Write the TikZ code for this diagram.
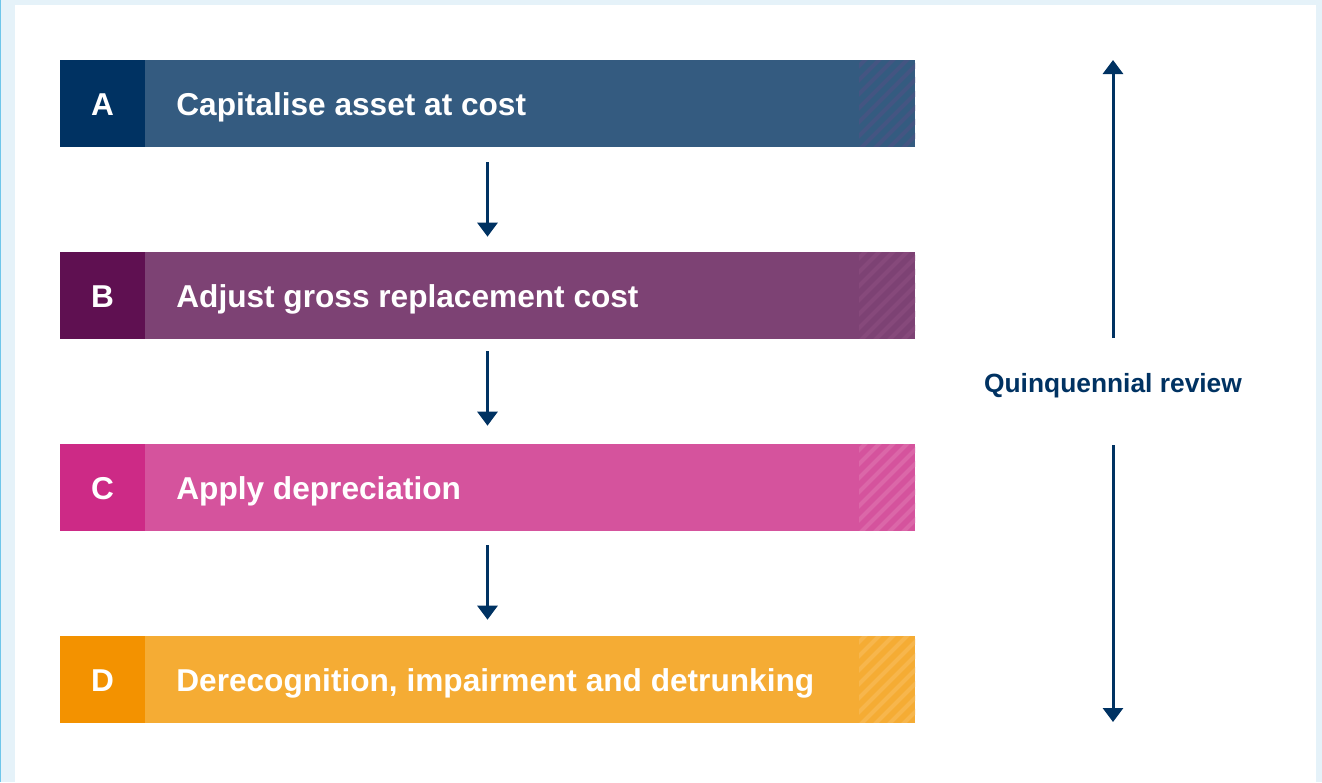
\documentclass[tikz,border=0pt]{standalone}
\usepackage{fontspec}
\setmainfont{Liberation Sans}
\usetikzlibrary{arrows.meta}
\definecolor{navy}{HTML}{003262}
\definecolor{panelbg}{HTML}{E5F2F9}
\definecolor{edgeblue}{HTML}{6EC6EA}
\definecolor{darkA}{HTML}{003262}
\definecolor{lightA}{HTML}{345B80}
\definecolor{hatchA}{HTML}{445582}
\definecolor{darkB}{HTML}{5F1051}
\definecolor{lightB}{HTML}{7D4274}
\definecolor{hatchB}{HTML}{86497B}
\definecolor{darkC}{HTML}{CD2A86}
\definecolor{lightC}{HTML}{D5539D}
\definecolor{hatchC}{HTML}{DB67A8}
\definecolor{darkD}{HTML}{F39200}
\definecolor{lightD}{HTML}{F5AC34}
\definecolor{hatchD}{HTML}{F7B64C}

\begin{document}
\begin{tikzpicture}[x=0.02cm, y=-0.02cm, font=\bfseries,
    bar/.style={inner sep=0, minimum width=17.1cm, minimum height=1.74cm},
    letterbox/.style={inner sep=0, minimum width=1.7cm, minimum height=1.74cm},
    bartext/.style={inner sep=0, text=white, font=\fontsize{18}{20}\bfseries},
    flow/.style={navy, line width=0.06cm, -{Triangle[width=0.4cm, length=0.28cm]}}]
  % page background and white panel (px coordinates, y downwards)
  \fill[panelbg]  (0,0)  rectangle (1322,782);
  \fill[edgeblue] (0,0)  rectangle (1.5,782);
  \fill[white]    (15,5) rectangle (1316,782);
  % the four steps
  \foreach \id/\txt/\y in {A/Capitalise asset at cost/60,
                           B/Adjust gross replacement cost/252,
                           C/Apply depreciation/444,
                           D/{Derecognition, impairment and detrunking}/636} {
    \node[bar, fill=light\id] (bar\id) at (487.5,\y+43.5) {};
    \node[letterbox, fill=dark\id, anchor=west] (let\id) at (bar\id.west) {};
    \node[bartext, anchor=base] (lab\id) at (102.5,\y+55) {\id};
    \node[bartext, anchor=base west] (txt\id) at (176,\y+55) {\txt};
    % hatched end of the bar
    \begin{scope}
      \clip (859,\y+0.6) rectangle (915,\y+86.4);
      \foreach \k in {0,...,11}
        \draw[hatch\id, line width=0.08cm] (770+\k*14,\y+95) -- ++(110,-110);
    \end{scope}
  }
  % arrows down the steps
  \draw[flow, shorten <=0.3cm, shorten >=0.3cm] (barA.south) -- (barB.north);
  \draw[flow, shorten <=0.24cm, shorten >=0.36cm] (barB.south) -- (barC.north);
  \draw[flow, shorten <=0.28cm, shorten >=0.32cm] (barC.south) -- (barD.north);
  % review span on the right
  \coordinate (revtop) at (1113,60);
  \coordinate (revbot) at (1113,722);
  \node[navy, font=\fontsize{15}{18}\bfseries, anchor=base] (rev) at (1113,392) {Quinquennial review};
  \draw[flow, shorten <=0.94cm] (rev.center) -- (revtop);
  \draw[flow, shorten <=1.2cm]  (rev.center) -- (revbot);
\end{tikzpicture}
\end{document}
